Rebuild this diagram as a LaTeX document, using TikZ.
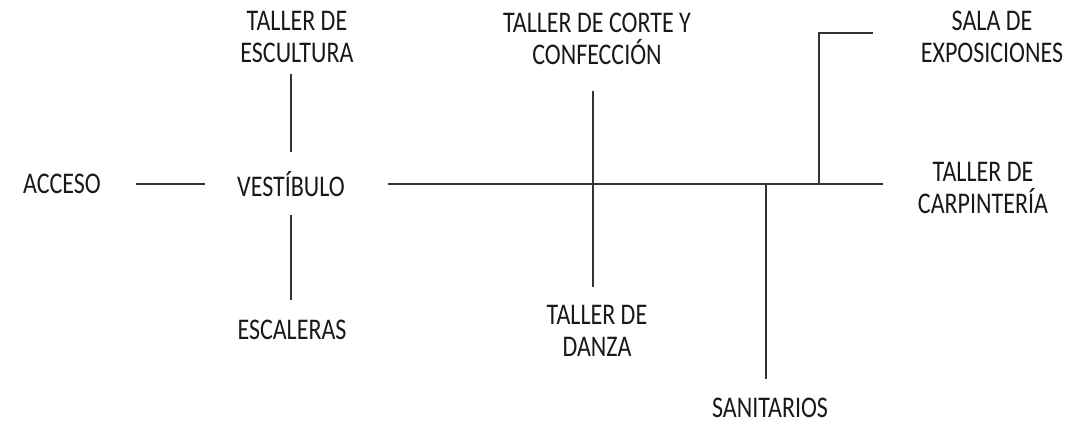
\documentclass[tikz,border=0pt]{standalone}
\usepackage{fontspec}
\setmainfont{Carlito}[FakeStretch=0.8]
\begin{document}
\begin{tikzpicture}[x=1pt,y=-1pt,
  lbl/.style={font=\fontsize{30}{32}\selectfont, align=center, inner sep=0pt, text=black!90},
  ln/.style={line width=2pt, draw=black!80}]
\useasboundingbox (0,0) rectangle (1066,425);
\node[lbl] (acc) at (62,184) {ACCESO};
\node[lbl] (ves) at (291,184) {VESTÍBULO};
\node[lbl] (esc) at (297,37) {TALLER DE\\ESCULTURA};
\node[lbl] (escal) at (292,330) {ESCALERAS};
\node[lbl] (corte) at (597,39) {TALLER DE CORTE Y\\CONFECCIÓN};
\node[lbl] (danza) at (597,331) {TALLER DE\\DANZA};
\node[lbl] (sala) at (992,37) {SALA DE\\EXPOSICIONES};
\node[lbl] (carp) at (983,188) {TALLER DE\\CARPINTERÍA};
\node[lbl] (san) at (770,408) {SANITARIOS};

\coordinate (a1) at (136,184);
\coordinate (a2) at (205,184);
\coordinate (m1) at (388,184);
\coordinate (m2) at (883,184);
\coordinate (e1) at (291,74);
\coordinate (e2) at (291,152);
\coordinate (s1) at (291,215);
\coordinate (s2) at (291,300);
\coordinate (c1) at (593,91);
\coordinate (c2) at (593,287);
\coordinate (t1) at (766,184);
\coordinate (t2) at (766,379);
\coordinate (x0) at (819,184);
\coordinate (x1) at (819,33);
\coordinate (x2) at (873,33);

\draw[ln] (a1) -- (a2);
\draw[ln] (m1) -- (m2);
\draw[ln] (e1) -- (e2);
\draw[ln] (s1) -- (s2);
\draw[ln] (c1) -- (c2);
\draw[ln] (t1) -- (t2);
\draw[ln] (x0) -- (x1) -- (x2);
\end{tikzpicture}
\end{document}
